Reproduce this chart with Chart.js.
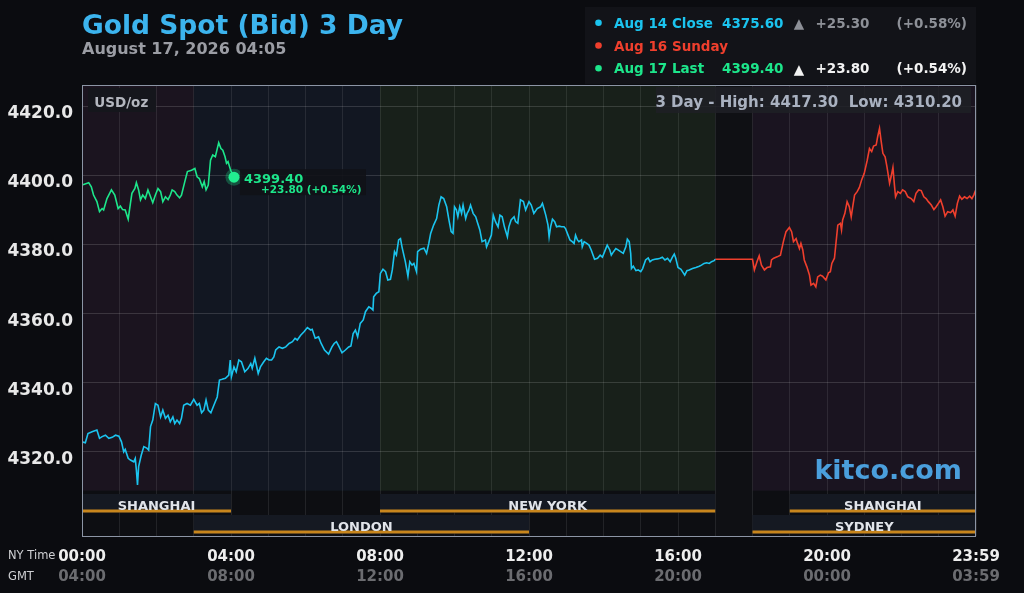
<!DOCTYPE html>
<html>
<head>
<meta charset="utf-8">
<title>Gold Spot (Bid) 3 Day</title>
<script src="https://cdn.jsdelivr.net/npm/chart.js@4.4.1/dist/chart.umd.min.js"></script>
<style>
  html, body { margin: 0; padding: 0; background: #0b0c10; }
  canvas { display: block; }
</style>
</head>
<body>
<canvas id="goldChart" width="1024" height="593"></canvas>
<script>
// hours are NY time (0 = 00:00, 24 = 23:59), prices in USD/oz

// Aug 14 close (cyan)
const closeTimes = [
  0, 0.09, 0.16, 0.27, 0.40, 0.47, 0.54, 0.63, 0.72, 0.81, 0.90, 0.99, 1.06, 1.12, 1.16, 1.24, 1.30, 1.39, 1.43, 1.46,
  1.49, 1.52, 1.59, 1.66, 1.75, 1.79, 1.84, 1.90, 1.97, 2.04, 2.11, 2.17, 2.24, 2.31, 2.37, 2.44, 2.49, 2.55, 2.62, 2.67,
  2.73, 2.82, 2.91, 3.00, 3.09, 3.15, 3.21, 3.27, 3.33, 3.39, 3.46, 3.54, 3.63, 3.69, 3.76, 3.85, 3.94, 3.98, 4.01, 4.08,
  4.14, 4.21, 4.28, 4.37, 4.46, 4.53, 4.57, 4.64, 4.73, 4.79, 4.88, 4.95, 5.02, 5.09, 5.15, 5.20, 5.29, 5.38, 5.47, 5.56,
  5.65, 5.72, 5.78, 5.87, 5.96, 6.05, 6.14, 6.18,
  6.26, 6.35, 6.42, 6.51, 6.62, 6.71, 6.77, 6.83, 6.89, 6.98, 7.07, 7.16, 7.22, 7.28, 7.34, 7.40, 7.47, 7.55, 7.61, 7.70,
  7.76, 7.81, 7.83, 7.90, 7.97, 8.01, 8.08, 8.15, 8.21, 8.28, 8.33, 8.39, 8.44, 8.50, 8.55, 8.59, 8.64, 8.68, 8.75, 8.80,
  8.86, 8.91, 8.98, 9.01, 9.09, 9.18, 9.25, 9.31, 9.36, 9.44, 9.52, 9.58, 9.64, 9.71, 9.79, 9.85, 9.91, 9.96, 10.00, 10.05,
  10.09, 10.14, 10.19, 10.23, 10.30, 10.34, 10.39, 10.43, 10.50, 10.57, 10.61, 10.68, 10.74, 10.83, 10.86, 10.92, 10.99, 11.04, 11.10, 11.17,
  11.22, 11.28, 11.34, 11.42, 11.46, 11.52, 11.60, 11.64, 11.70, 11.77, 11.85, 11.91, 12.00, 12.06, 12.13, 12.22, 12.31,
  12.36, 12.40, 12.45, 12.51, 12.54, 12.58, 12.63, 12.69, 12.74, 12.81, 12.87, 12.94, 12.98, 13.03, 13.10, 13.16, 13.21, 13.25, 13.30, 13.34,
  13.41, 13.43, 13.48, 13.55, 13.61, 13.67, 13.76, 13.84, 13.91, 13.97, 14.03, 14.10, 14.17, 14.21, 14.27, 14.33, 14.39, 14.46, 14.53, 14.60,
  14.64, 14.69, 14.73, 14.75, 14.80, 14.87, 14.93, 15.00, 15.05, 15.13, 15.20, 15.25, 15.31, 15.38, 15.45, 15.52, 15.58, 15.65, 15.72, 15.79,
  15.85, 15.90, 15.94, 16.00, 16.08, 16.15, 16.18, 16.24, 16.30, 16.39, 16.48, 16.57, 16.63, 16.70, 16.77, 16.84, 16.90, 16.97, 17.00
];
const closePrices = [
  4322.7, 4322.4, 4325.1, 4325.6, 4326.1, 4323.7, 4324.2, 4324.6, 4323.7, 4324.0, 4324.6, 4324.3, 4322.7, 4319.8, 4320.5, 4317.9, 4317.4, 4316.9, 4317.9, 4314.5,
  4310.2, 4315.5, 4318.8, 4321.3, 4320.8, 4320.3, 4327.1, 4329.0, 4333.8, 4333.3, 4329.9, 4331.9, 4329.5, 4330.4, 4328.5, 4329.9, 4328.0, 4329.0, 4328.0, 4329.5,
  4333.3, 4333.8, 4333.3, 4335.0, 4333.3, 4333.8, 4331.1, 4331.9, 4334.8, 4331.9, 4331.1, 4333.3, 4335.7, 4340.6, 4340.8, 4341.1, 4342.0, 4346.4, 4341.5, 4344.4,
  4343.0, 4346.4, 4345.9, 4343.0, 4344.0, 4345.4, 4344.0, 4346.9, 4342.5, 4344.4, 4345.9, 4346.9, 4346.4, 4346.4, 4347.3, 4349.3, 4350.2, 4349.8, 4350.2, 4351.2,
  4351.7, 4352.7, 4352.2, 4353.6, 4354.6, 4355.8, 4355.1, 4355.3,
  4352.7, 4353.1, 4351.2, 4349.3, 4348.1, 4350.2, 4351.2, 4351.7, 4350.5, 4348.5, 4349.3, 4350.2, 4350.5, 4354.1, 4355.1, 4353.1, 4357.0, 4358.0, 4360.4, 4361.8,
  4361.4, 4360.9, 4364.7, 4365.7, 4366.2, 4371.5, 4372.7, 4372.0, 4369.6, 4369.8, 4372.5, 4377.8, 4376.8, 4381.2, 4381.6, 4379.2, 4376.8, 4374.9, 4370.7, 4374.9,
  4373.9, 4374.4, 4372.0, 4377.8, 4378.5, 4378.8, 4377.3, 4380.2, 4383.1, 4385.5, 4387.4, 4391.3, 4393.7, 4393.2, 4390.8, 4387.0, 4383.6, 4383.1, 4390.8, 4389.9,
  4387.9, 4390.8, 4388.9, 4391.3, 4387.4, 4388.9, 4389.9, 4391.3, 4388.9, 4387.9, 4386.5, 4384.1, 4380.7, 4381.2, 4379.2, 4380.7, 4382.6, 4388.4, 4386.5, 4385.0,
  4388.4, 4387.9, 4385.0, 4382.1, 4385.0, 4387.0, 4387.9, 4386.5, 4386.0, 4392.8, 4392.3, 4389.9, 4392.3, 4391.3, 4388.9, 4390.3, 4390.8,
  4391.8, 4390.3, 4388.4, 4385.5, 4382.1, 4385.0, 4387.2, 4386.5, 4385.0, 4385.2, 4385.0, 4385.0, 4384.5, 4383.1, 4381.2, 4380.7, 4380.2, 4382.6, 4381.2, 4380.7,
  4381.2, 4379.2, 4380.7, 4380.2, 4379.7, 4378.3, 4375.6, 4375.9, 4376.8, 4376.2, 4377.8, 4379.7, 4378.3, 4376.8, 4377.8, 4378.7, 4378.3, 4377.8, 4377.3, 4379.2,
  4381.4, 4380.7, 4377.3, 4372.9, 4373.6, 4372.3, 4372.5, 4372.0, 4372.9, 4375.4, 4376.0, 4374.9, 4375.4, 4375.6, 4375.7, 4375.9, 4376.2, 4375.4, 4375.9, 4374.9,
  4376.2, 4377.1, 4375.9, 4373.2, 4372.7, 4371.5, 4371.0, 4372.3, 4372.5, 4372.9, 4373.2, 4373.6, 4373.9, 4374.4, 4374.6, 4374.4, 4374.9, 4375.2, 4375.6
];

// Aug 16 Sunday (red)
const sundayTimes = [
  17.00, 18.00, 18.05, 18.12, 18.18, 18.24, 18.32, 18.39, 18.48, 18.51, 18.57, 18.66, 18.75, 18.78, 18.84, 18.90, 18.99, 19.05, 19.10, 19.17,
  19.21, 19.26, 19.30, 19.35, 19.39, 19.46, 19.53, 19.57, 19.64, 19.70, 19.75, 19.82, 19.88, 19.97, 20.04, 20.09, 20.13, 20.20, 20.24, 20.29,
  20.36, 20.39, 20.42, 20.48, 20.54, 20.60, 20.65, 20.69, 20.74, 20.81, 20.87, 20.93, 21.00, 21.08, 21.14, 21.20, 21.25, 21.32, 21.36, 21.41,
  21.45, 21.50, 21.56, 21.61, 21.68, 21.72, 21.77, 21.81, 21.84, 21.90, 21.97, 22.03, 22.10, 22.17, 22.26, 22.33, 22.39, 22.46, 22.53, 22.60,
  22.66, 22.72, 22.80, 22.87, 22.93, 22.99, 23.05, 23.11, 23.17, 23.24, 23.32, 23.38, 23.44, 23.50, 23.56, 23.62, 23.69, 23.76, 23.83, 23.89,
  23.94, 24.00
];
const sundayPrices = [
  4375.6, 4375.6, 4372.5, 4374.9, 4376.6, 4373.9, 4372.5, 4373.2, 4373.4, 4375.4, 4375.9, 4376.3, 4376.8, 4378.3, 4381.2, 4383.6, 4384.8, 4383.6, 4380.7, 4381.6,
  4380.2, 4378.7, 4380.2, 4378.3, 4375.4, 4373.4, 4371.0, 4368.1, 4368.6, 4367.6, 4370.5, 4371.0, 4370.7, 4369.6, 4371.7, 4372.0, 4374.4, 4375.9, 4380.2, 4385.5,
  4386.0, 4384.1, 4387.0, 4388.9, 4392.3, 4390.8, 4387.9, 4390.8, 4394.2, 4395.2, 4396.4, 4398.6, 4400.5, 4404.3, 4407.7, 4406.8, 4408.4, 4408.7, 4411.1, 4413.5,
  4410.1, 4406.3, 4405.3, 4402.4, 4397.6, 4399.5, 4402.2, 4397.1, 4393.7, 4395.2, 4394.7, 4395.7, 4395.2, 4393.7, 4393.2, 4392.3, 4394.7, 4395.7, 4395.5, 4393.7,
  4393.2, 4392.3, 4391.3, 4390.0, 4390.8, 4391.8, 4392.8, 4390.8, 4388.1, 4389.4, 4389.1, 4389.9, 4388.1, 4391.8, 4393.9, 4393.0, 4393.7, 4393.2, 4393.9, 4393.2,
  4394.2, 4395.9
];

// Aug 17 last (green)
const lastTimes = [
  0, 0.18, 0.25, 0.31, 0.40, 0.47, 0.54, 0.58, 0.67, 0.79, 0.88, 0.97, 1.03, 1.09, 1.16, 1.24, 1.30, 1.34, 1.42, 1.46,
  1.52, 1.57, 1.63, 1.70, 1.77, 1.84, 1.90, 1.97, 2.04, 2.11, 2.17, 2.24, 2.31, 2.37, 2.42, 2.49, 2.55, 2.62, 2.67, 2.76,
  2.83, 2.94, 3.03, 3.09, 3.15, 3.23, 3.28, 3.33, 3.39, 3.45, 3.51, 3.58, 3.67, 3.73, 3.78, 3.84, 3.88, 3.92, 3.99, 4.08
];
const lastPrices = [
  4397.1, 4397.8, 4396.6, 4394.2, 4392.3, 4389.4, 4390.3, 4389.9, 4393.2, 4395.7, 4394.2, 4390.3, 4391.0, 4390.0, 4389.9, 4387.2, 4391.8, 4394.7, 4396.1, 4397.8,
  4395.7, 4392.8, 4394.2, 4393.2, 4395.7, 4393.7, 4392.0, 4394.2, 4396.1, 4395.2, 4392.3, 4393.7, 4392.9, 4394.2, 4395.7, 4395.2, 4394.2, 4393.4, 4394.2, 4398.1,
  4401.0, 4401.4, 4401.9, 4399.5, 4399.0, 4396.6, 4398.1, 4395.7, 4397.1, 4404.3, 4405.8, 4405.3, 4409.4, 4407.7, 4407.2, 4405.3, 4403.4, 4403.9, 4401.4, 4399.4
];

const legendNames = ['Aug 14 Close', 'Aug 16 Sunday', 'Aug 17 Last'];
const legendPrices = ['4375.60', '', '4399.40'];
const legendChanges = ['+25.30', '', '+23.80'];
const legendPercents = ['(+0.58%)', '', '(+0.54%)'];
const rangeHigh = 4417.30;
const rangeLow = 4310.20;

const yTicks = [4320, 4340, 4360, 4380, 4400, 4420];
const hourTicks = [0, 1, 2, 3, 4, 5, 6, 7, 8, 9, 10, 11, 12, 13, 14, 15, 16, 17, 18, 19, 20, 21, 22, 23, 24];
const labelHours = [0, 4, 8, 12, 16, 20, 24];
const nyLabels = ['00:00', '04:00', '08:00', '12:00', '16:00', '20:00', '23:59'];
const gmtLabels = ['04:00', '08:00', '12:00', '16:00', '20:00', '00:00', '03:59'];

// background zones of the price area
const zoneStarts = [0, 3, 8, 17, 18];
const zoneEnds = [3, 8, 17, 18, 24];

// market sessions under the plot
const sessionNames = ['SHANGHAI', 'NEW YORK', 'SHANGHAI', 'LONDON', 'SYDNEY'];
const sessionStarts = [0, 8, 19, 3, 18];
const sessionEnds = [4, 17, 24, 12, 24];
const sessionRows = [0, 0, 0, 1, 1];

const FONT = '"DejaVu Sans", sans-serif';
const CYAN = '#1bc4ef';
const RED = '#ef3f2d';
const GREEN = '#1de68b';
const zoneColors = ['#1b141f', '#121722', '#18201a', '#0f1014', '#1a1420'];
const zoneFull = [false, false, false, true, false];

Chart.defaults.font.family = FONT;

const toPoints = (times, prices) => times.map((t, i) => ({ x: t, y: prices[i] }));

const backdrop = {
  id: 'backdrop',
  beforeDraw(chart) {
    const { ctx, chartArea: a, scales: { x } } = chart;
    ctx.save();
    ctx.fillStyle = '#0b0c10';
    ctx.fillRect(0, 0, chart.width, chart.height);
    ctx.fillStyle = '#0d0e12';
    ctx.fillRect(a.left, a.top, a.right - a.left, a.bottom - a.top);
    const plotBottom = a.bottom - 45.3;
    zoneStarts.forEach((s, i) => {
      const x1 = x.getPixelForValue(s);
      const x2 = x.getPixelForValue(zoneEnds[i]);
      ctx.fillStyle = zoneColors[i];
      ctx.fillRect(x1, a.top, x2 - x1, (zoneFull[i] ? a.bottom : plotBottom) - a.top);
    });
    ctx.restore();
  }
};

const sessionBars = {
  id: 'sessionBars',
  beforeDatasetsDraw(chart) {
    const { ctx, chartArea: a, scales: { x } } = chart;
    ctx.save();
    ctx.font = 'bold 13px ' + FONT;
    ctx.textAlign = 'center';
    ctx.textBaseline = 'alphabetic';
    sessionNames.forEach((name, i) => {
      const x1 = x.getPixelForValue(sessionStarts[i]);
      const x2 = x.getPixelForValue(sessionEnds[i]);
      const top = a.bottom - 42 + sessionRows[i] * 21;
      ctx.fillStyle = '#151922';
      ctx.fillRect(x1, top, x2 - x1, 18.5);
      ctx.fillStyle = '#c8861d';
      ctx.fillRect(x1, top + 15.5, x2 - x1, 3);
      ctx.fillStyle = '#e1e4ea';
      ctx.fillText(name, (x1 + x2) / 2, top + 15.5);
    });
    ctx.restore();
  }
};

const lastLabel = {
  id: 'lastLabel',
  afterDatasetsDraw(chart) {
    const { ctx, scales: { x, y } } = chart;
    const n = lastTimes.length - 1;
    const px = x.getPixelForValue(lastTimes[n]);
    const py = y.getPixelForValue(lastPrices[n]);
    ctx.save();
    ctx.fillStyle = 'rgba(17,18,23,0.9)';
    ctx.fillRect(px + 6, py - 8, 126, 26);
    ctx.fillStyle = GREEN;
    ctx.textBaseline = 'alphabetic';
    ctx.font = 'bold 13px ' + FONT;
    ctx.fillText(lastPrices[n].toFixed(2), px + 10, py + 5.5);
    ctx.font = 'bold 10.5px ' + FONT;
    ctx.fillText(legendChanges[2] + ' ' + legendPercents[2], px + 27, py + 16.3);
    ctx.restore();
  }
};

const overlay = {
  id: 'overlay',
  afterDraw(chart) {
    const { ctx, chartArea: a, scales: { x } } = chart;
    ctx.save();
    ctx.textBaseline = 'alphabetic';

    // frame
    ctx.strokeStyle = '#8c95a5';
    ctx.lineWidth = 1;
    ctx.strokeRect(a.left + 0.5, a.top + 0.5, a.right - a.left - 1, a.bottom - a.top);

    // title
    ctx.textAlign = 'left';
    ctx.fillStyle = '#3cb4ee';
    ctx.font = 'bold 26.5px ' + FONT;
    ctx.fillText('Gold Spot (Bid) 3 Day', 82, 33.5);
    ctx.fillStyle = '#9b9da4';
    ctx.font = 'bold 16px ' + FONT;
    ctx.fillText('August 17, 2026 04:05', 82, 54);

    // legend box
    ctx.fillStyle = '#121318';
    ctx.fillRect(585, 7, 391, 77);
    const colors = [CYAN, RED, GREEN];
    const subColors = ['#8d9097', '#8d9097', '#f2f2f2'];
    legendNames.forEach((name, i) => {
      const by = 27.7 + i * 22.8;
      ctx.fillStyle = colors[i];
      ctx.beginPath();
      ctx.arc(598.5, by - 5, 3.3, 0, Math.PI * 2);
      ctx.fill();
      ctx.font = 'bold 13.5px ' + FONT;
      ctx.textAlign = 'left';
      ctx.fillText(name, 614, by);
      if (!legendPrices[i]) return;
      ctx.textAlign = 'right';
      ctx.fillText(legendPrices[i], 783.5, by);
      ctx.fillStyle = subColors[i];
      ctx.textAlign = 'center';
      ctx.font = 'bold 13.5px ' + FONT;
      ctx.fillText('\u25B2', 799, by + 0.5);
      ctx.textAlign = 'left';
      ctx.fillText(legendChanges[i], 815.5, by);
      ctx.textAlign = 'right';
      ctx.fillText(legendPercents[i], 967, by);
    });

    // 3 day range box
    ctx.fillStyle = 'rgba(30,32,38,0.85)';
    ctx.fillRect(656, a.top + 2, 315, 26);
    ctx.fillStyle = '#a9b1c0';
    ctx.font = 'bold 15px ' + FONT;
    ctx.textAlign = 'right';
    ctx.fillText('3 Day - High: ' + rangeHigh.toFixed(2) + '  Low: ' + rangeLow.toFixed(2), 962, 107.3);

    // unit
    ctx.fillStyle = '#15161c';
    ctx.fillRect(88, a.top + 3, 68, 24);
    ctx.fillStyle = '#b4b7bf';
    ctx.font = 'bold 13.5px ' + FONT;
    ctx.textAlign = 'left';
    ctx.fillText('USD/oz', 94.3, 106.7);

    // watermark
    ctx.fillStyle = '#4a9fdc';
    ctx.font = 'bold 27px ' + FONT;
    ctx.textAlign = 'right';
    ctx.fillText('kitco.com', 962, 479);

    // time rows
    ctx.fillStyle = '#cfd0d3';
    ctx.font = '11.5px ' + FONT;
    ctx.textAlign = 'left';
    ctx.fillText('NY Time', 8, 559);
    ctx.fillText('GMT', 8, 580);
    ctx.fillStyle = '#6b6c70';
    ctx.font = 'bold 15px ' + FONT;
    ctx.textAlign = 'center';
    ctx.textBaseline = 'middle';
    labelHours.forEach((h, i) => {
      ctx.fillText(gmtLabels[i], x.getPixelForValue(h), 577.5);
    });
    ctx.restore();
  }
};

new Chart(document.getElementById('goldChart'), {
  type: 'line',
  data: {
    datasets: [
      {
        type: 'scatter',
        data: [{ x: lastTimes[lastTimes.length - 1], y: lastPrices[lastPrices.length - 1] }],
        pointRadius: 5.5,
        pointBackgroundColor: '#22ee90',
        pointBorderWidth: 0,
        order: 0
      },
      {
        type: 'scatter',
        data: [{ x: lastTimes[lastTimes.length - 1], y: lastPrices[lastPrices.length - 1] }],
        pointRadius: 8.5,
        pointBackgroundColor: 'rgba(30,230,140,0.28)',
        pointBorderWidth: 0,
        order: 1
      },
      {
        label: legendNames[2],
        data: toPoints(lastTimes, lastPrices),
        borderColor: GREEN,
        borderWidth: 1.6,
        pointRadius: 0,
        tension: 0,
        order: 2
      },
      {
        label: legendNames[0],
        data: toPoints(closeTimes, closePrices),
        borderColor: CYAN,
        borderWidth: 1.6,
        pointRadius: 0,
        tension: 0,
        order: 3
      },
      {
        label: legendNames[1],
        data: toPoints(sundayTimes, sundayPrices),
        borderColor: RED,
        borderWidth: 1.6,
        pointRadius: 0,
        tension: 0,
        order: 4
      }
    ]
  },
  options: {
    responsive: false,
    animation: false,
    events: [],
    layout: { padding: { top: 85, right: 48, bottom: 0, left: 0 } },
    plugins: {
      legend: { display: false },
      tooltip: { enabled: false }
    },
    scales: {
      x: {
        type: 'linear',
        min: 0,
        max: 24,
        afterFit: (s) => { s.height = 57; },
        afterBuildTicks: (s) => { s.ticks = hourTicks.map((v) => ({ value: v })); },
        grid: { color: 'rgba(255,255,255,0.09)', drawTicks: false },
        border: { display: false },
        ticks: {
          autoSkip: false,
          maxRotation: 0,
          padding: 12,
          color: '#eeeeee',
          font: { size: 15, weight: 'bold' },
          callback: (v) => {
            const i = labelHours.indexOf(v);
            return i < 0 ? '' : nyLabels[i];
          }
        }
      },
      y: {
        min: 4295.4,
        max: 4426.1,
        afterFit: (s) => { s.width = 82; },
        afterBuildTicks: (s) => { s.ticks = yTicks.map((v) => ({ value: v })); },
        grid: { color: 'rgba(255,255,255,0.14)', drawTicks: false },
        border: { display: false },
        ticks: {
          padding: 9,
          labelOffset: 8,
          color: '#e8e8e8',
          font: { size: 17, weight: 'bold' },
          callback: (v) => v.toFixed(1)
        }
      }
    }
  },
  plugins: [backdrop, sessionBars, lastLabel, overlay]
});
</script>
</body>
</html>
